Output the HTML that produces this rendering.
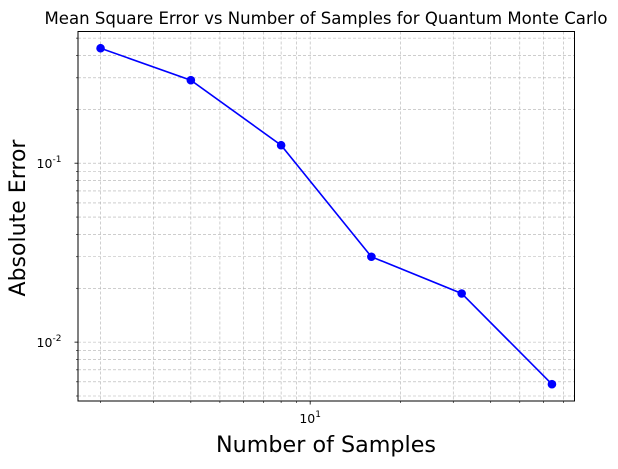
<!DOCTYPE html>
<html><head><meta charset="utf-8"><style>
body{margin:0;background:#fff;width:618px;height:465px;overflow:hidden;font-family:"DejaVu Sans","Liberation Sans",sans-serif}
</style></head><body>
<svg id="chart" width="618" height="465" xmlns="http://www.w3.org/2000/svg">
<text x="326" y="24" text-anchor="middle" font-size="16.5" fill="#000" textLength="563" lengthAdjust="spacingAndGlyphs">Mean Square Error vs Number of Samples for Quantum Monte Carlo</text>
<text x="326" y="452" text-anchor="middle" font-size="22" fill="#000" textLength="220" lengthAdjust="spacingAndGlyphs">Number of Samples</text>
<text transform="translate(25,218) rotate(-90)" text-anchor="middle" font-size="22" fill="#000" textLength="157" lengthAdjust="spacingAndGlyphs">Absolute Error</text>
<g id="grid"></g><g id="ticks"></g><g id="series"></g>
<rect x="78" y="31.5" width="496.5" height="369.5" fill="none" stroke="#000" stroke-width="1"/>
</svg>
<script>
const samples=[2,4,8,16,32,64];
const errors=[0.439,0.291,0.126,0.030,0.0187,0.00582];
const xTickLabels=["10","1"];
const yTickLabels=[["10","-1",0.1],["10","-2",0.01]];
const L=78,R=574.5,T=31.5,B=401;
const xmax=Math.log10(64)+0.25*Math.log10(2);
const xlo=Math.log10(2)-0.25*Math.log10(2);
const ylo=-2.329,yhi=-0.264;
const sx=v=>L+(Math.log10(v)-xlo)/(xmax-xlo)*(R-L);
const sy=v=>B-(Math.log10(v)-ylo)/(yhi-ylo)*(B-T);
const NS="http://www.w3.org/2000/svg";
function mk(p,t,a){const e=document.createElementNS(NS,t);for(const k in a)e.setAttribute(k,a[k]);p.appendChild(e);return e;}
const grid=document.getElementById('grid'),ticks=document.getElementById('ticks'),ser=document.getElementById('series');
for(let d=1;d<=100;d*=10)for(let m=1;m<10;m++){const v=d*m;const x=sx(v);if(x<L||x>R)continue;
 const g=mk(grid,'line',{x1:x,x2:x,y1:T,y2:B,stroke:'#b0b0b0','stroke-width':0.6,'stroke-dasharray':'3,2'});
 
 const t=mk(ticks,'line',{x1:x,x2:x,y1:B,y2:B+(m==1?3.5:2),stroke:'#000','stroke-width':m==1?0.8:0.6});
 
 if(m==1){const tx=mk(ticks,'text',{x:x,y:B+22,'text-anchor':'middle','font-size':12.5});
  
  tx.textContent=xTickLabels[0];const s=mk(tx,'tspan',{dy:-6,'font-size':9});s.textContent=xTickLabels[1];}}
for(let d=0.001;d<=1;d*=10)for(let m=1;m<10;m++){const v=d*m;const y=sy(v);if(y<T||y>B)continue;
 const g=mk(grid,'line',{x1:L,x2:R,y1:y,y2:y,stroke:'#b0b0b0','stroke-width':0.6,'stroke-dasharray':'3,2'});
 
 const t=mk(ticks,'line',{x1:L-(m==1?3.5:2),x2:L,y1:y,y2:y,stroke:'#000','stroke-width':m==1?0.8:0.6});
 }
yTickLabels.forEach(l=>{const y=sy(l[2]);const tx=mk(ticks,'text',{x:L-29,y:y+5,'text-anchor':'middle','font-size':12.5});
 
 tx.textContent=l[0];const s=mk(tx,'tspan',{dy:-6,'font-size':9});s.textContent=l[1];});
const pts=samples.map((s,i)=>sx(s)+','+sy(errors[i])).join(' ');
const pl=mk(ser,'polyline',{points:pts,fill:'none',stroke:'#0000ff','stroke-width':1.6});

samples.forEach((s,i)=>{const c=mk(ser,'circle',{cx:sx(s),cy:sy(errors[i]),r:4.3,fill:'#0000ff'});
 });
</script>
</body></html>
